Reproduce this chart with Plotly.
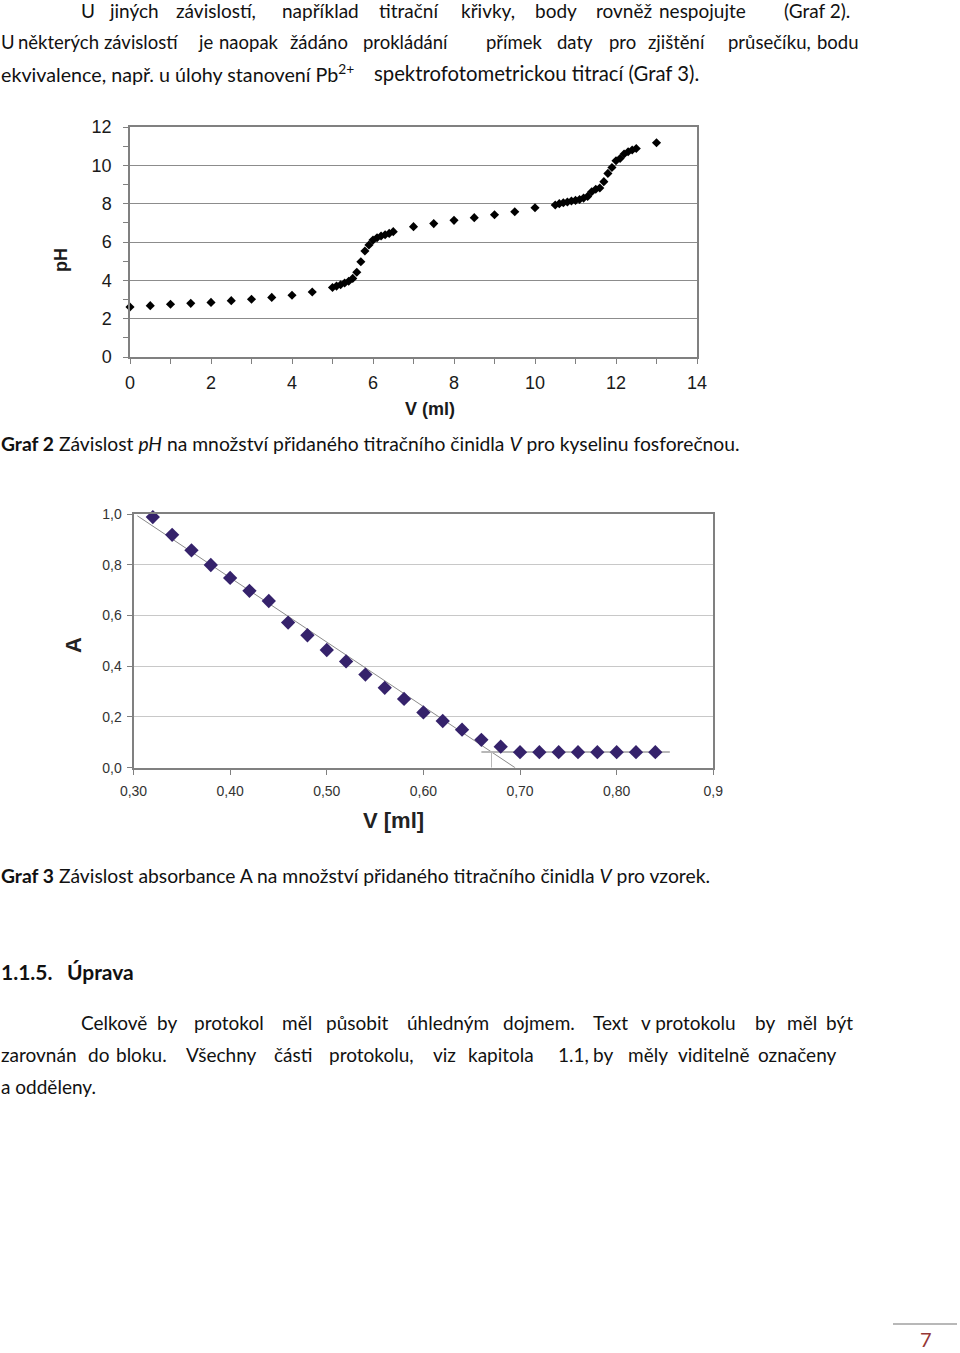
import plotly.graph_objects as go

W, H = 960, 1353

# ---------------- Graf 2 data (pH titration) ----------------
v_ml = [0, 0.5, 1, 1.5, 2, 2.5, 3, 3.5, 4, 4.5,
        5.0, 5.1, 5.2, 5.3, 5.4, 5.5, 5.6, 5.7, 5.8, 5.9, 6.0, 6.1, 6.2, 6.3, 6.4, 6.5,
        7, 7.5, 8, 8.5, 9, 9.5, 10,
        10.5, 10.6, 10.7, 10.8, 10.9, 11.0, 11.1, 11.2, 11.3, 11.4, 11.5, 11.6, 11.7,
        11.8, 11.9, 12.0, 12.1, 12.2, 12.3, 12.4, 12.5,
        13]
ph = [2.61, 2.68, 2.75, 2.80, 2.85, 2.94, 3.01, 3.11, 3.22, 3.39,
      3.63, 3.70, 3.77, 3.86, 3.95, 4.10, 4.42, 4.97, 5.53, 5.84, 6.10, 6.22, 6.31, 6.38, 6.45, 6.54,
      6.80, 6.96, 7.13, 7.27, 7.42, 7.58, 7.79,
      7.93, 8.00, 8.05, 8.09, 8.14, 8.17, 8.22, 8.29, 8.38, 8.62, 8.75, 8.82, 9.15,
      9.58, 9.89, 10.24, 10.36, 10.59, 10.71, 10.80, 10.88,
      11.18]
ph_xticks = [0, 2, 4, 6, 8, 10, 12, 14]
ph_yticks = [0, 2, 4, 6, 8, 10, 12]

# ---------------- Graf 3 data (absorbance) ----------------
v_abs = [0.32, 0.34, 0.36, 0.38, 0.40, 0.42, 0.44, 0.46, 0.48, 0.50, 0.52, 0.54, 0.56,
         0.58, 0.60, 0.62, 0.64, 0.66, 0.68, 0.70, 0.72, 0.74, 0.76, 0.78, 0.80, 0.82, 0.84]
absorb = [0.988, 0.918, 0.857, 0.799, 0.748, 0.697, 0.657, 0.572, 0.522, 0.464, 0.419, 0.367, 0.315,
          0.271, 0.218, 0.184, 0.150, 0.110, 0.083, 0.061, 0.061, 0.061, 0.061, 0.061, 0.061, 0.061, 0.061]
fit_slope = -2.54
fit_intercept = 1.765
fit_v_range = [0.304, 0.695]
plateau_a = 0.062
plateau_v_range = [0.66, 0.855]
abs_xticks = [0.3, 0.4, 0.5, 0.6, 0.7, 0.8, 0.9]
abs_xlabels = ["0,30", "0,40", "0,50", "0,60", "0,70", "0,80", "0,9"]
abs_yticks = [0.0, 0.2, 0.4, 0.6, 0.8, 1.0]
abs_ylabels = ["0,0", "0,2", "0,4", "0,6", "0,8", "1,0"]

fit_line_v = fit_v_range
fit_line_a = [fit_intercept + fit_slope * v for v in fit_v_range]
v_eq = (plateau_a - fit_intercept) / fit_slope


def px_x(p):
    return p / W


def px_y(p):
    return 1 - p / H


fig = go.Figure()

# Graf 2
fig.add_trace(go.Scatter(x=v_ml, y=ph, mode="markers", xaxis="x", yaxis="y",
                         marker=dict(symbol="diamond", size=7, color="#000000"),
                         cliponaxis=False, showlegend=False, hoverinfo="skip"))

# Graf 3
fig.add_trace(go.Scatter(x=fit_line_v, y=fit_line_a, mode="lines", xaxis="x2", yaxis="y2",
                         line=dict(color="#8a8a8a", width=1), showlegend=False, hoverinfo="skip"))
fig.add_trace(go.Scatter(x=plateau_v_range, y=[plateau_a, plateau_a], mode="lines", xaxis="x2", yaxis="y2",
                         line=dict(color="#b8b8b8", width=2), showlegend=False, hoverinfo="skip"))
fig.add_trace(go.Scatter(x=[v_eq, v_eq], y=[0, plateau_a], mode="lines", xaxis="x2", yaxis="y2",
                         line=dict(color="#b8b8b8", width=1), showlegend=False, hoverinfo="skip"))
fig.add_trace(go.Scatter(x=v_abs, y=absorb, mode="markers", xaxis="x2", yaxis="y2",
                         marker=dict(symbol="diamond", size=11, color="#35226b"),
                         cliponaxis=False, showlegend=False, hoverinfo="skip"))

tickfont1 = dict(family="Liberation Sans, Arial", size=18, color="#1a1a1a")
tickfont2 = dict(family="Liberation Sans, Arial", size=14, color="#333333")

fig.update_layout(
    template="none",
    width=W, height=H, autosize=False,
    margin=dict(l=0, r=0, t=0, b=0, pad=0),
    paper_bgcolor="white", plot_bgcolor="white",
    showlegend=False,
    xaxis=dict(domain=[px_x(130), px_x(697)], range=[0, 14], anchor="y", automargin=False,
               tickvals=ph_xticks, ticks="outside", ticklen=5, tickcolor="#808080", tickwidth=1,
               minor=dict(dtick=1, ticks="outside", ticklen=5, tickcolor="#808080", showgrid=False),
               showgrid=False, zeroline=False, showline=True, linecolor="#808080", linewidth=1.5,
               mirror=True, tickfont=tickfont1, ticklabelstandoff=4),
    yaxis=dict(domain=[px_y(357), px_y(127)], range=[0, 12], anchor="x", automargin=False,
               tickvals=ph_yticks, ticks="outside", ticklen=5, tickcolor="#808080", tickwidth=1,
               minor=dict(dtick=1, ticks="outside", ticklen=5, tickcolor="#808080", showgrid=False),
               showgrid=True, gridcolor="#8c8c8c", gridwidth=1.2, zeroline=False,
               showline=True, linecolor="#808080", linewidth=1.5, mirror=True,
               tickfont=tickfont1, ticklabelstandoff=8),
    xaxis2=dict(domain=[px_x(133.5), px_x(713.3)], range=[0.3, 0.9], anchor="y2", automargin=False,
                tickvals=abs_xticks, ticktext=abs_xlabels, ticks="outside", ticklen=5, tickcolor="#808080",
                tickwidth=1, showgrid=False, zeroline=False, showline=True, linecolor="#808080", linewidth=2,
                mirror=True, tickfont=tickfont2, ticklabelstandoff=4),
    yaxis2=dict(domain=[px_y(767.7), px_y(514)], range=[0, 1.0], anchor="x2", automargin=False,
                tickvals=abs_yticks, ticktext=abs_ylabels, ticks="outside", ticklen=5, tickcolor="#808080",
                tickwidth=1, showgrid=True, gridcolor="#c8c8c8", gridwidth=1.2, zeroline=False,
                showline=True, linecolor="#808080", linewidth=2, mirror=True,
                tickfont=tickfont2, ticklabelstandoff=2),
)

TXT = "Lato"
anns = []


def ann(text, x, y, size=20, xanchor="left", color="#111111", family=TXT, textangle=0):
    anns.append(dict(text=text, x=px_x(x), y=px_y(y), xref="paper", yref="paper",
                     xanchor=xanchor, yanchor="middle", showarrow=False, textangle=textangle,
                     borderpad=0,
                     font=dict(family=family, size=size, color=color)))


def words(line, y, size=19):
    for w, x in line:
        ann(w, x, y, size=size)


line1 = [("U", 80), ("jiných", 108), ("závislostí,", 175), ("například", 281), ("titrační", 378),
         ("křivky,", 460), ("body", 534), ("rovněž", 595), ("nespojujte", 658), ("(Graf 2).", 783)]
line2 = [("U", 0), ("některých", 17), ("závislostí", 103), ("je", 197), ("naopak", 218), ("žádáno", 289),
         ("prokládání", 362), ("přímek", 485), ("daty", 556), ("pro", 608), ("zjištění", 647),
         ("průsečíku,", 727), ("bodu", 816)]
line_c1 = [("Celkově", 80), ("by", 156), ("protokol", 193), ("měl", 281), ("působit", 325),
           ("úhledným", 406), ("dojmem.", 502), ("Text", 592), ("v protokolu", 640), ("by", 754),
           ("měl", 786), ("být", 825)]
line_c2 = [("zarovnán", 0), ("do", 87), ("bloku.", 115), ("Všechny", 185), ("části", 273),
           ("protokolu,", 328), ("viz", 432), ("kapitola", 467), ("1.1,", 557), ("by", 592),
           ("měly", 627), ("viditelně", 677), ("označeny", 757)]

words(line1, 10)
words(line2, 42, size=18.5)
ann("ekvivalence, např. u úlohy stanovení Pb<sup>2+</sup>", 0, 73, size=19.7)
ann("spektrofotometrickou titrací (Graf 3).", 373, 73, size=20.3)

ann("<b>Graf 2</b> Závislost <i>pH</i> na množství přidaného titračního činidla <i>V</i> pro kyselinu fosforečnou.",
    0, 444, size=19.3)
ann("<b>Graf 3</b> Závislost absorbance A na množství přidaného titračního činidla <i>V</i> pro vzorek.",
    0, 875, size=19.3)
ann("<b>1.1.5.</b>", 0, 971, size=21)
ann("<b>Úprava</b>", 66, 971, size=21)
words(line_c1, 1022)
words(line_c2, 1054)
ann("a odděleny.", 0, 1086, size=19)

# axis titles
ann("<b>pH</b>", 61, 260, size=18, xanchor="center", family="Liberation Sans, Arial", textangle=-90, color="#1a1a1a")
ann("<b>V (ml)</b>", 430, 409, size=18, xanchor="center", family="Liberation Sans, Arial", color="#1a1a1a")
ann("<b>A</b>", 73, 645, size=22, xanchor="center", family="Liberation Sans, Arial", textangle=-90, color="#222222")
ann("<b>V [ml]</b>", 393, 820, size=22, xanchor="center", family="Liberation Sans, Arial", color="#222222")

# page number
ann("7", 926, 1339, size=20, xanchor="center", color="#953735")

fig.update_layout(annotations=anns)
fig.add_shape(type="line", xref="paper", yref="paper", x0=px_x(893), x1=px_x(957), y0=px_y(1324), y1=px_y(1324),
              line=dict(color="#a0a0a0", width=1.5))

fig.write_html(
    "out.html",
    config={"displayModeBar": False},
    post_script=(
        "document.documentElement.style.margin='0';document.body.style.margin='0';"
        "document.documentElement.style.overflow='hidden';document.body.style.overflow='hidden';"
        "var gd=document.getElementById('{plot_id}');"
        "gd.style.position='fixed';gd.style.left='0px';gd.style.top='0px';"
    ),
)
